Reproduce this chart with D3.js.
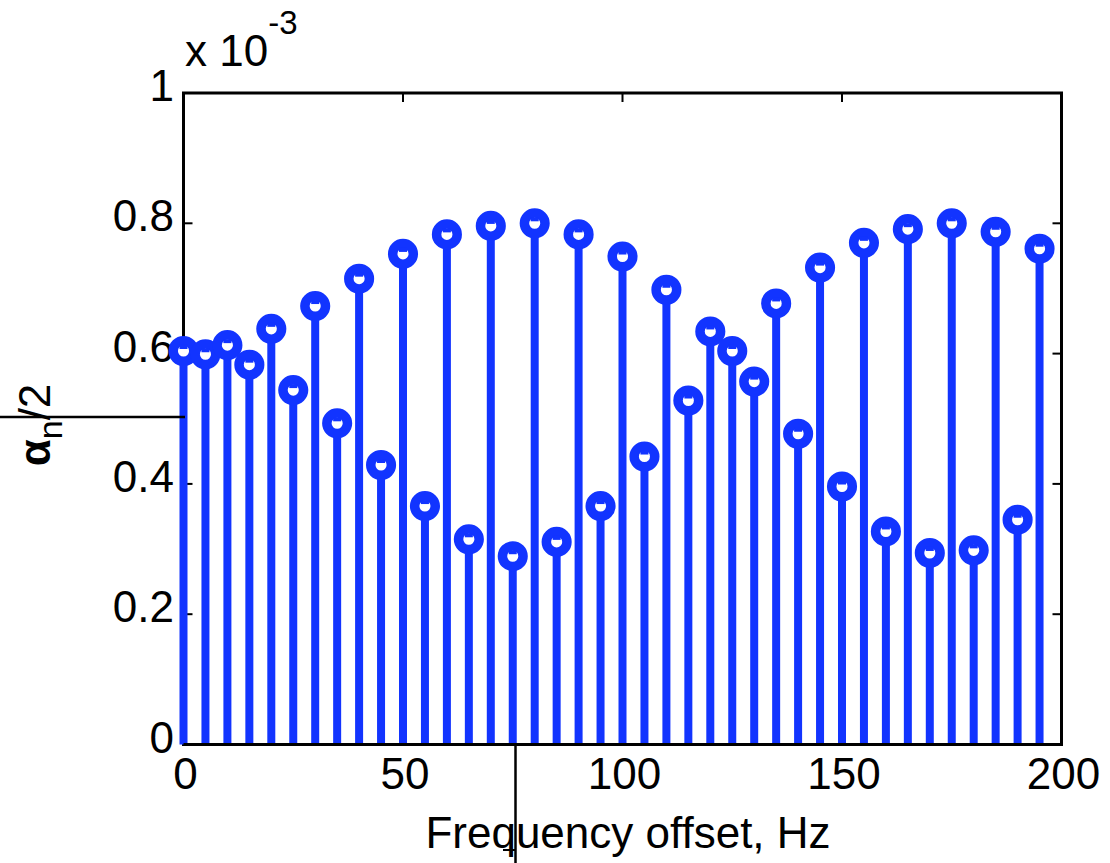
<!DOCTYPE html>
<html>
<head>
<meta charset="utf-8">
<script src="https://cdn.jsdelivr.net/npm/d3@7"></script>
<style>
  body { margin: 0; background: #fff; }
  svg { display: block; }
  text { font-family: "Liberation Sans", Arial, Helvetica, sans-serif; fill: #000; }
</style>
</head>
<body>
<svg id="chart"></svg>
<script>
// frequency offsets (Hz) and alpha_n/2 values (in units of 1e-3)
var freqs = d3.range(0, 200, 5);
var alphaHalf = [
  0.604, 0.599, 0.613, 0.583, 0.638, 0.544, 0.673, 0.493, 0.715, 0.429,
  0.753, 0.366, 0.783, 0.315, 0.796, 0.289, 0.800, 0.311, 0.783, 0.366,
  0.749, 0.442, 0.698, 0.528, 0.634, 0.604, 0.557, 0.677, 0.477, 0.732,
  0.396, 0.770, 0.327, 0.791, 0.294, 0.800, 0.298, 0.787, 0.345, 0.761
];
var xTicks = [0, 50, 100, 150, 200];
var yTicks = [0, 0.2, 0.4, 0.6, 0.8, 1];
var yTickLabels = ['0', '0.2', '0.4', '0.6', '0.8', '1'];

var W = 1110, H = 863;
var blue = 'rgb(18, 52, 255)';

var svg = d3.select('#chart').attr('width', W).attr('height', H);

var x = d3.scaleLinear().domain([0, 200]).range([183.5, 1061.5]);
var y = d3.scaleLinear().domain([0, 1]).range([744.5, 93]);

// axes box
svg.append('rect')
  .attr('x', x(0)).attr('y', y(1))
  .attr('width', x(200) - x(0)).attr('height', y(0) - y(1))
  .attr('fill', 'none').attr('stroke', '#000').attr('stroke-width', 3);

// inward ticks on all four sides
var tickLen = 9;
svg.append('g').selectAll('line.xb').data(xTicks).enter().append('line')
  .attr('x1', d => x(d)).attr('x2', d => x(d))
  .attr('y1', y(0)).attr('y2', y(0) - tickLen)
  .attr('stroke', '#000').attr('stroke-width', 2);
svg.append('g').selectAll('line.xt').data(xTicks).enter().append('line')
  .attr('x1', d => x(d)).attr('x2', d => x(d))
  .attr('y1', y(1)).attr('y2', y(1) + tickLen)
  .attr('stroke', '#000').attr('stroke-width', 2);
svg.append('g').selectAll('line.yl').data(yTicks).enter().append('line')
  .attr('x1', x(0)).attr('x2', x(0) + tickLen)
  .attr('y1', d => y(d)).attr('y2', d => y(d))
  .attr('stroke', '#000').attr('stroke-width', 2);
svg.append('g').selectAll('line.yr').data(yTicks).enter().append('line')
  .attr('x1', x(200)).attr('x2', x(200) - tickLen)
  .attr('y1', d => y(d)).attr('y2', d => y(d))
  .attr('stroke', '#000').attr('stroke-width', 2);

// tick labels
svg.append('g').selectAll('text').data(xTicks).enter().append('text')
  .attr('x', d => x(d) + 2).attr('y', 789)
  .attr('text-anchor', 'middle').attr('font-size', 44)
  .text(d => d);
svg.append('g').selectAll('text').data(yTicks).enter().append('text')
  .attr('x', 174).attr('y', d => y(d) + 8)
  .attr('text-anchor', 'end').attr('font-size', 44)
  .text((d, i) => yTickLabels[i]);

// exponent label
var expo = svg.append('text').attr('x', 185).attr('y', 66).attr('font-size', 44);
expo.append('tspan').text('x 10');
expo.append('tspan').attr('dy', -32).attr('font-size', 33).text('-3');

// stems
var data = freqs.map((f, i) => ({ f: f, v: alphaHalf[i] }));
var stems = svg.append('g');
stems.selectAll('line').data(data).enter().append('line')
  .attr('x1', d => x(d.f)).attr('x2', d => x(d.f))
  .attr('y1', y(0)).attr('y2', d => y(d.v))
  .attr('stroke', blue).attr('stroke-width', 8);

// baseline
svg.append('line')
  .attr('x1', x(0)).attr('x2', x(200))
  .attr('y1', y(0)).attr('y2', y(0))
  .attr('stroke', '#000').attr('stroke-width', 3);

// markers
var marks = svg.append('g');
marks.selectAll('circle').data(data).enter().append('circle')
  .attr('cx', d => x(d.f)).attr('cy', d => y(d.v))
  .attr('r', 10.3)
  .attr('fill', '#fff').attr('stroke', blue).attr('stroke-width', 9.5);
marks.selectAll('rect').data(data).enter().append('rect')
  .attr('x', d => x(d.f) - 4).attr('y', d => y(d.v) - 6)
  .attr('width', 8).attr('height', 4)
  .attr('fill', blue);

// x label
svg.append('text')
  .attr('x', 628).attr('y', 848)
  .attr('text-anchor', 'middle').attr('font-size', 44)
  .text('Frequency offset, Hz');

// y label
var yl = svg.append('text')
  .attr('transform', 'translate(50,425) rotate(-90)')
  .attr('text-anchor', 'middle').attr('font-size', 44);
yl.append('tspan').attr('font-weight', 'bold').text('\u03b1');
yl.append('tspan').attr('dy', 12).attr('font-size', 34).text('n');
yl.append('tspan').attr('dy', -12).text('/2');

// stray guide lines seen in the original figure
svg.append('line').attr('x1', 0).attr('x2', 185).attr('y1', 417).attr('y2', 417)
  .attr('stroke', '#000').attr('stroke-width', 2.5);
svg.append('line').attr('x1', 515.5).attr('x2', 515.5).attr('y1', 745).attr('y2', H)
  .attr('stroke', '#000').attr('stroke-width', 2.5);
svg.append('line').attr('x1', 503).attr('x2', 516).attr('y1', 850).attr('y2', 850)
  .attr('stroke', '#000').attr('stroke-width', 2);
</script>
</body>
</html>
